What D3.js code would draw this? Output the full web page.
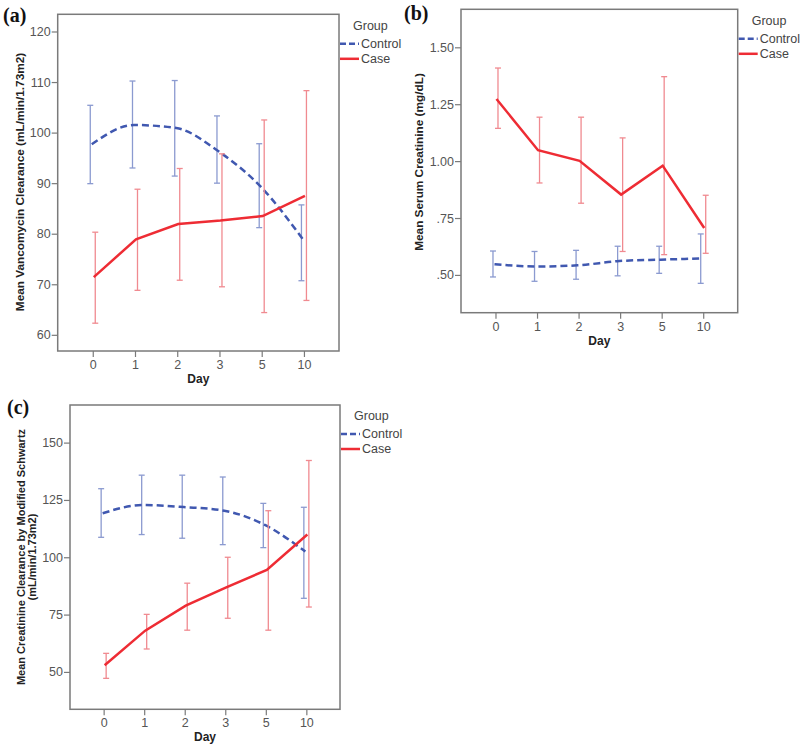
<!DOCTYPE html>
<html><head><meta charset="utf-8">
<script src="https://cdn.jsdelivr.net/npm/d3@7"></script>
<style>body{margin:0;background:#fff;} svg{display:block;font-family:"Liberation Sans",Arial,sans-serif;}</style>
</head><body>
<svg id="c" width="800" height="755"></svg>
<script>
const days = ["0","1","2","3","5","10"];
const groups = ["Control","Case"];

// Panel (a) Vancomycin clearance
const aControlMean = [97.7,101.5,100.9,96.3,89.3,78.9];
const aControlLo   = [89.9,93.0,91.4,90.0,81.2,70.7];
const aControlHi   = [105.4,110.2,110.3,103.3,97.8,85.7];
const aCaseMean    = [71.4,78.9,81.9,82.6,83.5,87.5];
const aCaseLo      = [62.3,68.8,70.8,69.5,64.4,66.8];
const aCaseHi      = [80.3,88.8,92.9,95.8,102.5,108.3];
const aTicks = [60,70,80,90,100,110,120];

// Panel (b) Serum creatinine
const bControlMean = [0.547,0.537,0.542,0.561,0.567,0.573];
const bControlLo   = [0.491,0.472,0.481,0.496,0.507,0.463];
const bControlHi   = [0.605,0.603,0.608,0.626,0.626,0.680];
const bCaseMean    = [1.273,1.048,1.001,0.853,0.980,0.706];
const bCaseLo      = [1.144,0.904,0.815,0.603,0.589,0.595];
const bCaseHi      = [1.409,1.193,1.193,1.102,1.371,0.850];
const bTicks = [0.50,0.75,1.00,1.25,1.50];
const bTickLabels = [".50",".75","1.00","1.25","1.50"];

// Panel (c) Creatinine clearance (modified Schwartz)
const cControlMean = [119.2,122.8,121.9,120.3,114.1,102.5];
const cControlLo   = [108.7,109.9,108.3,105.5,104.2,82.1];
const cControlHi   = [129.9,135.8,135.8,135.0,123.5,121.8];
const cCaseMean    = [52.9,68.0,78.9,86.9,94.5,109.9];
const cCaseLo      = [47.2,60.0,68.2,73.4,68.2,78.3];
const cCaseHi      = [58.1,75.1,88.7,100.0,120.3,142.2];
const cTicks = [50,75,100,125,150];

const colors = {Control:"#4058b0", Case:"#ee2c34"};
const barColors = {Control:"#8b9ad0", Case:"#f08a90"};

const svg = d3.select("#c");

function panel(o){
  const g = svg.append("g");
  const x = d3.scalePoint().domain(days).range([o.l,o.r]).padding(0.83);
  const y = d3.scaleLinear().domain(o.ydom).range([o.b,o.t]);
  // frame
  g.append("rect").attr("x",o.l).attr("y",o.t).attr("width",o.r-o.l).attr("height",o.b-o.t)
    .attr("fill","none").attr("stroke","#7a7a7a").attr("stroke-width",1.5);
  // y axis
  const ya = d3.axisLeft(y).tickValues(o.ticks).tickSize(6).tickSizeOuter(0)
    .tickFormat((d,i)=>o.tickLabels?o.tickLabels[i]:d);
  const yg = g.append("g").attr("transform",`translate(${o.l},0)`).call(ya);
  // x axis
  const xa = d3.axisBottom(x).tickSize(6).tickSizeOuter(0);
  const xg = g.append("g").attr("transform",`translate(0,${o.b})`).call(xa);
  [yg,xg].forEach(a=>{
    a.select(".domain").remove();
    a.selectAll(".tick line").attr("stroke","#7a7a7a").attr("stroke-width",1.2);
    a.selectAll(".tick text").attr("fill","#555").attr("font-size",12.5);
  });
  yg.selectAll(".tick text").attr("x",-7);
  // labels
  g.append("text").attr("x",(o.l+o.r)/2).attr("y",o.b+32).attr("text-anchor","middle")
    .attr("font-weight","bold").attr("font-size",12).attr("fill","#222").text("Day");
  o.ylabel.forEach((s,i)=>{
    g.append("text").attr("transform",`translate(${o.ylx+i*11.6},${o.lyc}) rotate(-90)`)
      .attr("text-anchor","middle").attr("dy","0.35em").attr("font-weight","bold")
      .attr("font-size",o.ylfs).attr("fill","#222").text(s);
  });
  g.append("text").attr("x",o.plx).attr("y",o.ply).attr("font-family","'Liberation Serif',serif")
    .attr("font-weight","bold").attr("font-size",20).attr("fill","#111").text(o.panel);
  // series
  groups.forEach((gr,gi)=>{
    const s = o.series[gr];
    const off = gi===0?-2.5:2.5;
    const eb = g.append("g").attr("stroke",barColors[gr]).attr("stroke-width",1.3);
    days.forEach((d,i)=>{
      const cx = x(d)+off;
      eb.append("line").attr("x1",cx).attr("x2",cx).attr("y1",y(s.lo[i])).attr("y2",y(s.hi[i]));
      eb.append("line").attr("x1",cx-3).attr("x2",cx+3).attr("y1",y(s.lo[i])).attr("y2",y(s.lo[i]));
      eb.append("line").attr("x1",cx-3).attr("x2",cx+3).attr("y1",y(s.hi[i])).attr("y2",y(s.hi[i]));
    });
    const line = d3.line().x((v,i)=>x(days[i])+off*0.4).y(v=>y(v));
    const curve = gi===0 ? d3.curveMonotoneX : d3.curveLinear;
    g.append("path").datum(s.mean).attr("d",line.curve(curve)).attr("fill","none")
      .attr("stroke",colors[gr]).attr("stroke-width",2.5)
      .attr("stroke-dasharray",gi===0?"7,4":null);
  });
  // legend
  g.append("text").attr("x",o.r+14).attr("y",o.t+o.lgy).attr("dy","0.35em").attr("font-size",12.5)
    .attr("fill","#444").text("Group");
  groups.forEach((gr,gi)=>{
    const yy = o.t+o.lgy+18+gi*15;
    g.append("line").attr("x1",o.r+1).attr("x2",o.r+20).attr("y1",yy).attr("y2",yy)
      .attr("stroke",colors[gr]).attr("stroke-width",2.5).attr("stroke-dasharray",gi===0?"6,3":null);
    g.append("text").attr("x",o.r+22).attr("y",yy).attr("dy","0.35em").attr("font-size",12.5)
      .attr("fill","#444").text(gr);
  });
}

panel({panel:"(a)",plx:3,ply:22,l:57.7,r:339,t:14.3,b:351,ydom:[56.8,123.4],ticks:aTicks,
  ylabel:["Mean Vancomycin Clearance (mL/min/1.73m2)"],ylx:19.5,lyc:182,ylfs:11.8,lgy:11.5,
  series:{Control:{mean:aControlMean,lo:aControlLo,hi:aControlHi},Case:{mean:aCaseMean,lo:aCaseLo,hi:aCaseHi}}});
panel({panel:"(b)",plx:404,ply:20,l:461,r:737.7,t:9.3,b:312.7,ydom:[0.334,1.667],ticks:bTicks,tickLabels:bTickLabels,
  ylabel:["Mean Serum Creatinine (mg/dL)"],ylx:419,lyc:162,ylfs:11.8,lgy:11.5,
  series:{Control:{mean:bControlMean,lo:bControlLo,hi:bControlHi},Case:{mean:bCaseMean,lo:bCaseLo,hi:bCaseHi}}});
panel({panel:"(c)",plx:7,ply:414,l:70,r:340,t:405,b:709.3,ydom:[33.7,166.4],ticks:cTicks,
  ylabel:["Mean Creatinine Clearance by Modified Schwartz","(mL/min/1.73m2)"],ylx:20.7,lyc:557,ylfs:11,lgy:11,
  series:{Control:{mean:cControlMean,lo:cControlLo,hi:cControlHi},Case:{mean:cCaseMean,lo:cCaseLo,hi:cCaseHi}}});
</script>
</body></html>
